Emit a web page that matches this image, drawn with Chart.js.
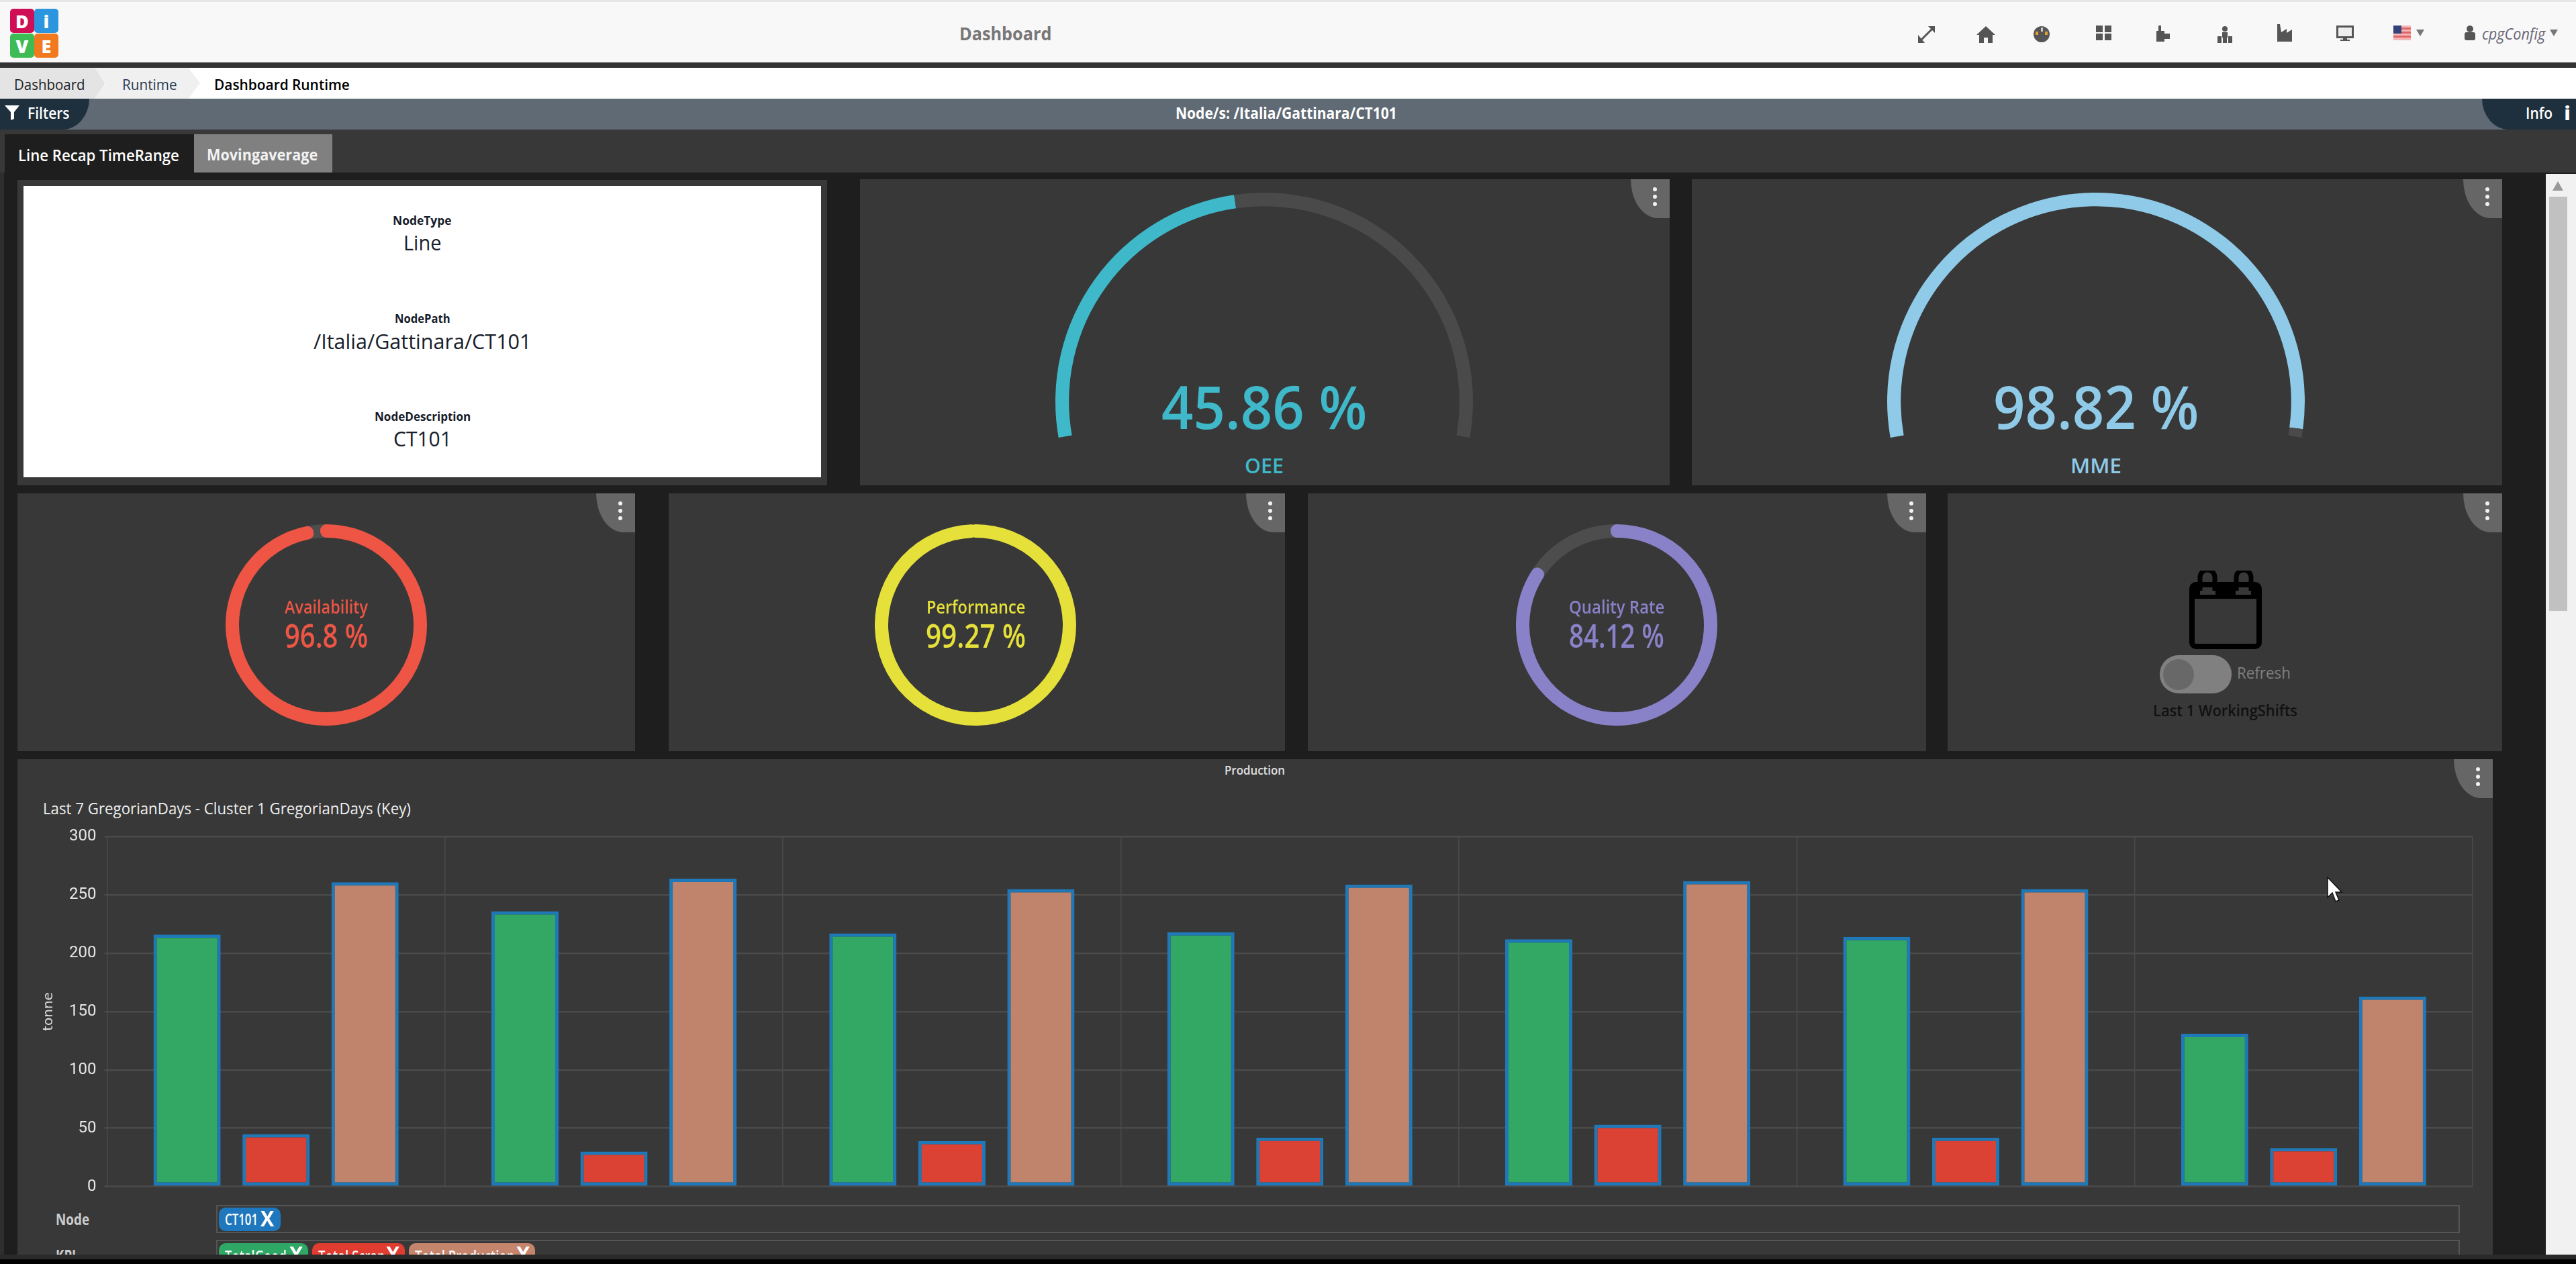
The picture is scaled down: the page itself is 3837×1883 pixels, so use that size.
<!DOCTYPE html>
<html><head><meta charset="utf-8"><title>Dashboard</title>
<script src="https://cdn.jsdelivr.net/npm/chart.js@4/dist/chart.umd.min.js"></script>
<style>
html,body{margin:0;padding:0;width:3837px;height:1883px;overflow:hidden;background:#1e1e1e;font-family:"Open Sans",sans-serif}
#page{position:absolute;left:0;top:0;width:3837px;height:1883px;overflow:hidden}
.b,.t,canvas,svg{position:absolute;display:block}
.t{white-space:nowrap;line-height:1;transform-origin:0 50%}
</style></head><body><div id="page"></div>
<script>
// ---------- chart data ----------
const days = ['Day 1','Day 2','Day 3','Day 4','Day 5','Day 6','Day 7'];
const totalGood = [216,236,217,218,212,214,131];
const totalScrap = [45,30,39,42,53,42,33];
const totalProduction = [261,264,255,259,262,255,163];
const yTicksStep = 50;
const gaugeNames = ['OEE','MME'];
const gaugeValues = [45.86,98.82];
const ringNames = ['Availability','Performance','Quality Rate'];
const ringValues = [96.8,99.27,84.12];
// ---------- helpers ----------
const page=document.getElementById('page');
function box(x,y,w,h,css,parent){const d=document.createElement('div');d.className='b';
  d.style.cssText=`left:${x}px;top:${y}px;width:${w}px;height:${h}px;${css||''}`;(parent||page).appendChild(d);return d;}
const texts=[];
function T(s,x,y,o,parent){const d=document.createElement('div');d.className='t';d.textContent=s;
  d.style.cssText=`font-size:${o.size}px;font-weight:${o.weight||400};color:${o.color||'#fff'};font-family:${o.font||'"Open Sans"'};font-style:${o.italic?'italic':'normal'};top:${y}px;left:0`;
  (parent||page).appendChild(d);texts.push({d,x,y,o});return d;}
function layoutTexts(){for(const {d,x,y,o} of texts){d.style.transform='none';const w0=d.offsetWidth,h0=d.offsetHeight,w=o.w||w0,s=w/w0;
  const left=o.c?x-w/2:x;d.style.left=left+'px';d.style.top=(y-h0/2)+'px';d.style.transform=`scaleX(${s})`;}}
function svg(x,y,w,h,inner,parent){const n=document.createElement('div');
  n.innerHTML=`<svg xmlns="http://www.w3.org/2000/svg" width="${w}" height="${h}" viewBox="0 0 ${w} ${h}" style="left:${x}px;top:${y}px">${inner}</svg>`;
  (parent||page).appendChild(n.firstChild);}
function canvas(x,y,w,h){const c=document.createElement('canvas');c.width=w;c.height=h;c.style.cssText=`left:${x}px;top:${y}px;width:${w}px;height:${h}px`;page.appendChild(c);return c;}
function menu(r,t){box(r-58,t,58,58,'background:#666;border-bottom-left-radius:70% 100%');
  for(const dy of [12,23,34])box(r-25,t+dy,6,6,'background:#f2f2f2;border-radius:50%');}
// ---------- page chrome ----------
box(0,0,3837,3,'background:#e6e6e6');box(0,3,3837,90,'background:#f8f8f8');box(0,93,3837,8,'background:#333');
box(0,101,3837,46,'background:#fff');
box(0,101,157,46,'background:#e4e4e4;clip-path:polygon(0 0,90% 0,100% 50%,90% 100%,0 100%)');
box(141,101,157,46,'background:#f0f0f0;clip-path:polygon(0 0,89% 0,100% 50%,89% 100%,0 100%,11% 50%)');
box(0,147,3837,46,'background:#5f6a75');
box(0,147,133,46,'background:#1e2f3d;border-bottom-right-radius:40px 46px');
box(3697,147,140,46,'background:#1e2f3d;border-bottom-left-radius:40px 46px');
box(0,193,3837,64,'background:#383838');
box(7,200,282,57,'background:#1e1e1e');box(289,200,206,57,'background:#808080');
box(0,257,6,1612,'background:#2e2e2e');
// logo
for(const [x,y,c,l] of [[15,13,'#cf0f55','D'],[51,13,'#2b95dd','i'],[15,50,'#3dbb55','V'],[51,50,'#f07a1d','E']]){
  box(x,y,36,36,`background:${c};border-radius:5px`);T(l,x+18,y+18,{size:27,weight:800,color:'#fff',c:1});}
T('Dashboard',1497,50,{size:26,weight:700,color:'#777',w:137,c:1});
T('Dashboard',21,125,{size:22,color:'#222',w:106});
T('Runtime',182,125,{size:22,color:'#2b3b52',w:82});
T('Dashboard Runtime',319,125,{size:22,weight:600,color:'#000',w:202});
svg(7,157,24,22,'<polygon points="0,0 22,0 14,10 14,20 9,22 9,10" fill="#fff"/>');
T('Filters',41,168,{size:23,weight:600,w:63});
T('Node/s: /Italia/Gattinara/CT101',1916,168,{size:23,weight:700,w:330,c:1});
T('Info',3762,168,{size:23,weight:600,w:40});
T('i',3824,168,{size:28,weight:800,c:1});
T('Line Recap TimeRange',27,231,{size:24,weight:600,w:240});
T('Movingaverage',308,230,{size:24,weight:700,color:'#f2f2f2',w:165});
// header icons
const ic='#555';
svg(2856,38,26,26,`<path d="M4 23 L23 4" stroke="${ic}" stroke-width="3"/><polygon points="16,1 26,1 26,11" fill="${ic}"/><polygon points="1,14 1,26 11,26" fill="${ic}"/>`);
svg(2944,38,28,26,`<polygon points="14,1 28,14 24,14 24,26 17,26 17,18 11,18 11,26 4,26 4,14 0,14" fill="${ic}"/>`);
svg(3028,38,26,26,`<circle cx="13" cy="13" r="12" fill="${ic}"/><rect x="4" y="9" width="4" height="5" fill="#e0a030"/><rect x="18" y="9" width="4" height="5" fill="#e0a030"/><rect x="12" y="3" width="3" height="6" fill="#ccc"/>`);
svg(3122,38,24,22,`<rect x="0" y="0" width="10" height="10" fill="${ic}"/><rect x="13" y="0" width="10" height="10" fill="${ic}"/><rect x="0" y="12" width="10" height="10" fill="${ic}"/><rect x="13" y="12" width="10" height="10" fill="${ic}"/>`);
svg(3210,37,24,26,`<rect x="5" y="1" width="4" height="8" fill="${ic}"/><rect x="2" y="9" width="12" height="16" fill="${ic}"/><rect x="14" y="13" width="8" height="8" fill="${ic}"/>`);
svg(3302,38,24,26,`<circle cx="12" cy="5" r="4" fill="${ic}"/><rect x="8" y="10" width="8" height="8" fill="${ic}"/><rect x="1" y="16" width="6" height="10" fill="${ic}"/><rect x="9" y="18" width="6" height="8" fill="${ic}"/><rect x="17" y="16" width="6" height="10" fill="${ic}"/>`);
svg(3392,36,24,26,`<polygon points="0,0 4,0 6,12 14,7 14,13 22,8 22,26 0,26" fill="${ic}"/>`);
svg(3480,38,26,24,`<rect x="1.5" y="1.5" width="23" height="16" fill="#eee" stroke="${ic}" stroke-width="3"/><rect x="10" y="18" width="6" height="3" fill="${ic}"/><rect x="6" y="21" width="14" height="2" fill="${ic}"/>`);
svg(3565,38,26,22,`<rect width="26" height="22" fill="#f4b6b6"/><rect y="3" width="26" height="3" fill="#e06666"/><rect y="9" width="26" height="3" fill="#e06666"/><rect y="15" width="26" height="3" fill="#e06666"/><rect width="12" height="12" fill="#33427a"/>`);
svg(3599,44,12,10,`<polygon points="0,0 12,0 6,10" fill="#777"/>`);
svg(3671,38,16,22,`<circle cx="8" cy="5" r="5" fill="${ic}"/><rect x="0" y="10" width="16" height="12" rx="3" fill="${ic}"/>`);
T('cpgConfig',3697,50,{size:23,italic:1,color:'#667',w:94});
svg(3798,44,12,10,`<polygon points="0,0 12,0 6,10" fill="#777"/>`);
// scrollbar
box(3792,259,45,1610,'background:#f1f1f1');box(3797,293,27,617,'background:#c1c1c1');
svg(3802,270,16,14,'<polygon points="8,0 16,14 0,14" fill="#999"/>');
// ---------- cards ----------
box(26,268,1206,455,'background:#383838');
box(35,277,1188,434,'background:#fff');
const dk='#17202b';
T('NodeType',629,328,{size:18,weight:700,color:dk,w:88,c:1});
T('Line',629,361,{size:31,color:dk,w:56,c:1});
T('NodePath',629,474,{size:18,weight:700,color:dk,w:83,c:1});
T('/Italia/Gattinara/CT101',629,508,{size:31,color:dk,w:325,c:1});
T('NodeDescription',629,620,{size:18,weight:700,color:dk,w:143,c:1});
T('CT101',629,653,{size:31,color:dk,w:87,c:1});

const gauges=[{x:1281,w:1206,cx:1883,color:'#3fb9c9',tw:306},{x:2520,w:1207,cx:3122,color:'#8fcbe8',tw:306}];
gauges.forEach((g,i)=>{box(g.x,267,g.w,456,'background:#383838');menu(g.x+g.w,267);
  const c=canvas(g.cx-311,287,622,365);
  new Chart(c,{type:'doughnut',data:{labels:[gaugeNames[i],'Rest'],datasets:[{data:[gaugeValues[i],100-gaugeValues[i]],backgroundColor:[g.color,'#4a4a4a'],borderWidth:0}]},
   options:{responsive:false,animation:false,rotation:-100,circumference:200,cutout:'93.5%',layout:{padding:0},plugins:{legend:{display:false},tooltip:{enabled:false}}}});
  T(gaugeValues[i]+' %',g.cx,605,{size:88,weight:600,color:g.color,w:g.tw,c:1});
  T(gaugeNames[i],g.cx,694,{size:30,weight:600,color:g.color,w:i?76:58,c:1});
});
const rings=[{x:26,w:920,cx:486,color:'#ee5545',lw:124,vw:124},{x:996,w:918,cx:1453,color:'#e6e03a',lw:147,vw:149},{x:1948,w:921,cx:2408,color:'#8a82c8',lw:142,vw:142}];
rings.forEach((r,i)=>{box(r.x,735,r.w,384,'background:#383838');menu(r.x+r.w,735);
  const c=canvas(r.cx-150,781,300,300),v=ringValues[i];
  new Chart(c,{type:'doughnut',data:{labels:['Rest',ringNames[i]],datasets:[{data:[100-v,v],backgroundColor:['#4d4d4d',r.color],borderColor:['#4d4d4d',r.color],borderWidth:18,borderJoinStyle:'round'}]},
   options:{responsive:false,animation:false,rotation:-(100-v)*3.6,cutout:139,layout:{padding:0},plugins:{legend:{display:false},tooltip:{enabled:false}}}});
  T(ringNames[i],r.cx,903,{size:27,weight:600,color:r.color,w:r.lw,c:1});
  T(v+' %',r.cx,947,{size:48,weight:600,color:r.color,w:r.vw,c:1});
});
// working-shift card
box(2901,735,826,384,'background:#383838');menu(3727,735);
svg(3261,850,108,118,`<path d="M16 30 V10 a10 10 0 0 1 22 0 V30 M70 30 V10 a10 10 0 0 1 22 0 V30" fill="none" stroke="#000" stroke-width="7"/><rect x="4" y="21" width="100" height="92" rx="6" fill="none" stroke="#000" stroke-width="8"/><rect x="4" y="21" width="12" height="21" fill="#000"/><rect x="39" y="21" width="30" height="21" fill="#000"/><rect x="92" y="21" width="12" height="21" fill="#000"/><rect x="4" y="36" width="100" height="6" fill="#000"/>`);
box(3217,976,107,57,'background:#808080;border-radius:28px');
box(3222,982,46,46,'background:#686868;border-radius:50%');
T('Refresh',3332,1002,{size:24,color:'#808080',w:80});
T('Last 1 WorkingShifts',3207,1058,{size:24,weight:600,color:'#111',w:215});
// production card
box(26,1131,3687,738,'background:#383838');menu(3713,1131);
T('Production',1869,1147,{size:18,weight:600,color:'#e0e0e0',w:90,c:1});
T('Last 7 GregorianDays - Cluster 1 GregorianDays (Key)',64,1204,{size:24,color:'#eee',w:548});
const barCanvas=canvas(26,1220,3667,574);
new Chart(barCanvas,{type:'bar',data:{labels:days,datasets:[
  {label:'TotalGood',data:totalGood,backgroundColor:'#32a864'},
  {label:'Total Scrap',data:totalScrap,backgroundColor:'#dc4234'},
  {label:'Total Production',data:totalProduction,backgroundColor:'#c0846c'}]},
 options:{responsive:false,animation:false,layout:{padding:{top:10,bottom:14,right:10,left:0}},
  datasets:{bar:{barPercentage:.755,categoryPercentage:.79,borderColor:'#1f79b9',borderWidth:5,borderSkipped:false}},
  plugins:{legend:{display:false},tooltip:{enabled:false}},
  scales:{
   x:{ticks:{display:false},grid:{color:'#4a4a4a',lineWidth:1.5,drawTicks:false},border:{color:'#4a4a4a'},afterFit:s=>{s.height=0}},
   y:{min:0,max:300,ticks:{stepSize:yTicksStep,color:'#e6e6e6',padding:12,font:{family:'Roboto',size:24}},
      grid:{color:'#4a4a4a',lineWidth:2.5,tickLength:4},border:{color:'#4a4a4a'},
      title:{display:true,text:'tonne',color:'#ddd',font:{family:'"DejaVu Sans"',size:20},padding:{top:35,bottom:0}},
      afterFit:s=>{s.width=133.5}}
  }}});
// filters rows
T('Node',83,1816,{size:23,weight:700,color:'#ccc',w:50});
box(322,1795,3338,38,'border:2px solid #555');
box(326,1799,92,35,'background:#1f78bd;border-radius:10px');
T('CT101',335,1816,{size:23,weight:600,w:49});T('X',388,1815,{size:32,weight:700,w:20});
const clip=box(0,1840,3837,29,'overflow:hidden');
box(322,7,3338,60,'border:2px solid #555',clip);
T('KPI',83,30,{size:23,weight:700,color:'#ccc',w:30},clip);
for(const [x,w,c,l,tw] of [[326,133,'#2fa866','TotalGood',92],[465,138,'#e03c30','Total Scrap',100],[609,188,'#c5846c','Total Production',148]]){
  box(x,12,w,40,`background:${c};border-radius:10px`,clip);
  T(l,x+9,31,{size:23,weight:600,w:tw},clip);T('X',x+w-28,28,{size:32,weight:700,w:20},clip);}
// bottom band and mouse pointer
box(0,1869,3837,7,'background:#2a2a2a');box(0,1876,3837,7,'background:#000');
svg(3464,1305,26,40,'<polygon points="3,2 3,32 10,25 15,38 20,36 15,24 24,24" fill="#fff" stroke="#111" stroke-width="1.5"/>');
document.fonts.ready.then(layoutTexts);layoutTexts();
</script></body></html>
